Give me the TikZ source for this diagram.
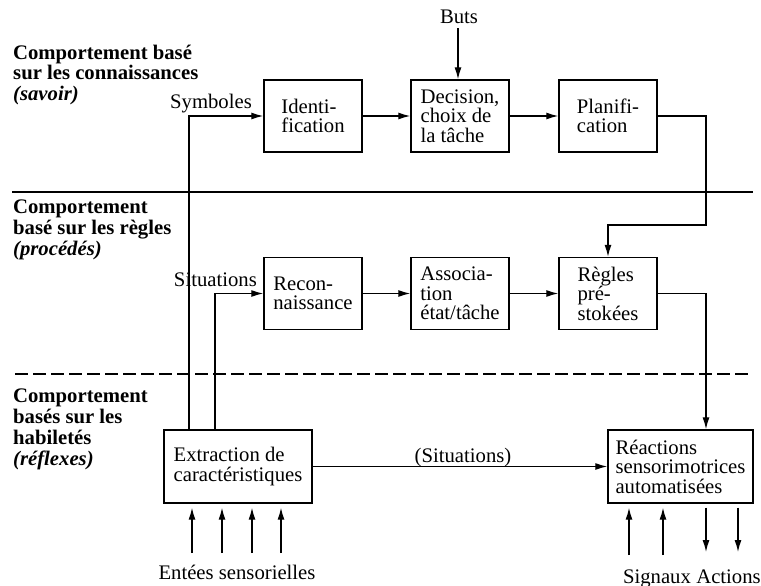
\documentclass[tikz,border=0pt]{standalone}
\usepackage{fontspec}
\setmainfont{Liberation Serif}
\usetikzlibrary{arrows.meta,calc}
\begin{document}
\begin{tikzpicture}[x=1pt,y=-1pt,
  lbl/.style={font=\fontsize{20.7}{21}\selectfont, inner sep=0pt, align=left, anchor=base west},
  lblb/.style={lbl, font=\fontsize{20.7}{21}\selectfont\bfseries},
  box/.style={draw, line width=1.4pt, inner sep=0pt, align=left, font=\fontsize{20.7}{19.5}\selectfont, minimum width=98pt, minimum height=72pt},
  arr/.style={line width=1.3pt, -{Latex[length=12pt,width=7pt]}},
  ln/.style={line width=1.3pt}]
\useasboundingbox (0,0) rectangle (761,586);
% separators
\coordinate (L1a) at (12,192); \coordinate (L1b) at (753,192);
\coordinate (L2a) at (15,374); \coordinate (L2b) at (752,374);
\draw[ln] (L1a) -- (L1b);
\draw[ln, dash pattern=on 13pt off 5pt] (L2a) -- (L2b);
% level labels (base = baseline of last line)
\node[lblb] (k1) at (13,101) {Comportement basé\\sur les connaissances\\\textit{(savoir)}};
\node[lblb] (k2) at (13,255) {Comportement\\basé sur les règles\\\textit{(procédés)}};
\node[lblb] (k3) at (13,465) {Comportement\\basés sur les\\habiletés\\\textit{(réflexes)}};
% boxes
\node[box] (ident) at (313,116) {Identi-\\fication};
\node[box] (dec) at (460,116) {Decision,\\choix de\\la tâche};
\node[box] (plan) at (608,116) {Planifi-\\cation};
\node[box] (recon) at (313,293.5) {Recon-\\naissance};
\node[box] (assoc) at (460,293.5) {Associa-\\tion\\état/tâche};
\node[box] (regles) at (608,293.5) {Règles\\pré-\\stokées};
\node[box, minimum width=148pt, minimum height=73pt] (extr) at (238,466.5) {Extraction de\\caractéristiques};
\node[box, minimum width=145pt, minimum height=73pt] (reac) at (680.5,466.5) {Réactions\\sensorimotrices\\automatisées};
% text labels
\node[lbl, anchor=base] (buts) at (459,24) {Buts};
\node[lbl, anchor=base east] (sym) at (252,108) {Symboles};
\node[lbl, anchor=base east] (sit) at (257,286) {Situations};
\node[lbl, anchor=base] (sit2) at (463,462) {(Situations)};
\node[lbl, anchor=base] (ent) at (237,579) {Entées sensorielles};
\node[lbl, anchor=base] (sig) at (657,583) {Signaux};
\node[lbl, anchor=base] (act) at (728.5,583) {Actions};
% coordinates
\coordinate (p1) at (706,225);
\coordinate (s1) at (189,0);
\coordinate (s2) at (215,0);
\coordinate (i1) at (192,553); \coordinate (i2) at (222,553);
\coordinate (i3) at (252,553); \coordinate (i4) at (281,553);
\coordinate (g1) at (629,555); \coordinate (g2) at (663,555);
\coordinate (a1) at (706,552); \coordinate (a2) at (738,552);
% connectors
\draw[arr] ($(buts.south)+(-1,4)$) -- ($(dec.north)+(-2,0)$);
\draw[arr] (ident) -- (dec);
\draw[arr] (dec) -- (plan);
\draw[arr] (plan.east) -| (p1) -| (regles.north);
\draw[arr] (recon) -- (assoc);
\draw[arr] (assoc) -- (regles);
\draw[arr] (regles.east) -| (reac.north -| p1);
\draw[arr] (extr) -- (reac);
\draw[arr] (extr.north -| s1) |- (ident.west);
\draw[arr] (extr.north -| s2) |- (recon.west);
\foreach \c in {i1,i2,i3,i4} \draw[arr, shorten >=4pt] (\c) -- (\c |- extr.south);
\foreach \c in {g1,g2} \draw[arr, shorten >=4pt] (\c) -- (\c |- reac.south);
\foreach \c in {a1,a2} \draw[arr, shorten <=4pt] (\c |- reac.south) -- (\c);
\end{tikzpicture}
\end{document}
